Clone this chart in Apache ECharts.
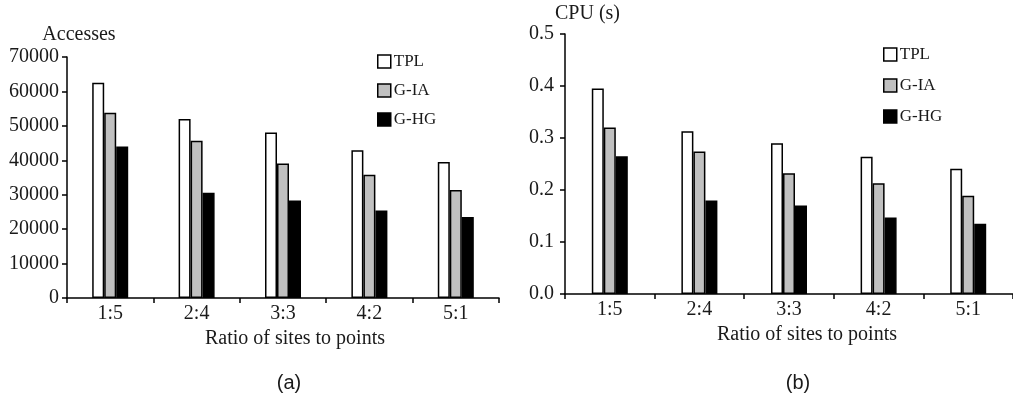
<!DOCTYPE html>
<html lang="en" style="height: 100%">

<head>
  <meta charset="utf-8">
  <style>
    html,
    body {
      margin: 0;
      padding: 0;
      width: 100%;
      height: 100%;
      overflow: hidden;
      background: #fff;
    }
  </style>
</head>

<body>
  <div id="container" style="height: 100%;width: 100%;"></div>

  <script type="text/javascript" src="https://cdn.jsdelivr.net/npm/echarts@6/dist/echarts.min.js"></script>
  <script type="text/javascript">

    var dom = document.getElementById('container');
    var myChart = echarts.init(dom, null, {
      renderer: 'canvas',
      useDirtyRect: false
    });

    // x轴数据
    const categories = ["1:5", "2:4", "3:3", "4:2", "5:1"];
    const seriesNames = ["TPL", "G-IA", "G-HG"];

    // (a) Accesses
    const accessTPL = [62500, 52000, 48100, 42900, 39500];
    const accessGIA = [53800, 45700, 39100, 35800, 31400];
    const accessGHG = [44000, 30600, 28300, 25400, 23500];

    // (b) CPU (s)
    const cpuTPL = [0.395, 0.313, 0.290, 0.264, 0.241];
    const cpuGIA = [0.320, 0.274, 0.232, 0.213, 0.189];
    const cpuGHG = [0.265, 0.180, 0.170, 0.147, 0.135];

    const fills = ["#ffffff", "#c0c0c0", "#000000"];
    const serif = "Liberation Serif";
    const textColor = "#1a1a1a";

    function xAxisFor(gridIndex, gap, pad) {
      return {
        type: "category",
        gridIndex: gridIndex,
        data: categories,
        name: "Ratio of sites to points",
        nameLocation: "middle",
        nameGap: gap,
        nameTextStyle: { fontFamily: serif, fontSize: 20, color: textColor, padding: [0, 0, 0, pad] },
        axisLine: { lineStyle: { color: "#000", width: 1.5 } },
        axisTick: { show: true, length: 5, lineStyle: { color: "#000", width: 1.5 } },
        axisLabel: { fontFamily: serif, fontSize: 20, color: textColor, margin: 6 },
        splitLine: { show: false },
      };
    }

    function yAxisFor(gridIndex, name, max, interval, fmt, pad, gap, margin) {
      return {
        type: "value",
        gridIndex: gridIndex,
        min: 0,
        max: max,
        interval: interval,
        name: name,
        nameLocation: "end",
        nameGap: gap,
        nameTextStyle: { fontFamily: serif, fontSize: 20, color: textColor, padding: [0, 0, 0, pad] },
        axisLine: { show: true, lineStyle: { color: "#000", width: 1.5 } },
        axisTick: { show: true, length: 5, lineStyle: { color: "#000", width: 1.5 } },
        axisLabel: { fontFamily: serif, fontSize: 20, color: textColor, margin: margin, formatter: fmt },
        splitLine: { show: false },
      };
    }

    function barSeries(name, data, idx, fill) {
      return {
        name: name,
        type: "bar",
        xAxisIndex: idx,
        yAxisIndex: idx,
        data: data,
        barWidth: 12,
        barGap: "0%",
        itemStyle: { color: fill, borderColor: "#000", borderWidth: 1.5 },
        emphasis: { disabled: true },
      };
    }

    function legendFor(left, top, gap) {
      return {
        data: seriesNames,
        orient: "vertical",
        left: left,
        top: top,
        padding: 0,
        itemGap: gap,
        itemWidth: 13,
        itemHeight: 13,
        icon: "rect",
        itemStyle: { borderColor: "#000", borderWidth: 1.5 },
        textStyle: { fontFamily: serif, fontSize: 17, color: textColor, padding: [0, 0, 0, -2] },
        selectedMode: false,
      };
    }

    var option = {
      animation: false,
      grid: [
        { left: 67, top: 57, width: 432, height: 241 },
        { left: 565, top: 34, width: 455, height: 260 },
      ],
      xAxis: [xAxisFor(0, 30, 24), xAxisFor(1, 25, 36)],
      yAxis: [
        yAxisFor(0, "Accesses", 70000, 10000, (v) => String(v), 24, 12, 8),
        yAxisFor(1, "CPU (s)", 0.5, 0.1, (v) => v.toFixed(1), 45, 9, 11),
      ],
      legend: [legendFor(377, 53, 12), legendFor(883, 46, 14)],
      series: [
        barSeries(seriesNames[0], accessTPL, 0, fills[0]),
        barSeries(seriesNames[1], accessGIA, 0, fills[1]),
        barSeries(seriesNames[2], accessGHG, 0, fills[2]),
        barSeries(seriesNames[0], cpuTPL, 1, fills[0]),
        barSeries(seriesNames[1], cpuGIA, 1, fills[1]),
        barSeries(seriesNames[2], cpuGHG, 1, fills[2]),
      ],
      graphic: [
        {
          type: "text", x: 289, y: 383,
          style: { text: "(a)", fontFamily: "Liberation Sans", fontSize: 20, fill: textColor, align: "center", verticalAlign: "middle" },
        },
        {
          type: "text", x: 798, y: 383,
          style: { text: "(b)", fontFamily: "Liberation Sans", fontSize: 20, fill: textColor, align: "center", verticalAlign: "middle" },
        },
      ],
    };

    if (option && typeof option === 'object') {
      myChart.setOption(option);
    }

    window.addEventListener('resize', myChart.resize);

  </script>
</body>

</html>
